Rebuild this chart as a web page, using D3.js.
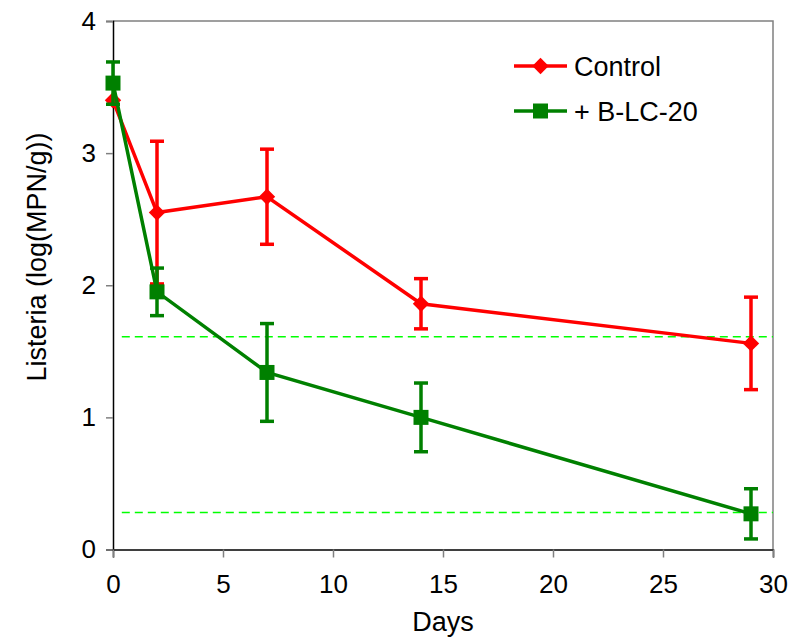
<!DOCTYPE html>
<html>
<head>
<meta charset="utf-8">
<script src="https://cdn.jsdelivr.net/npm/d3@7"></script>
<style>
  body { margin: 0; background: #fff; }
  svg text { font-family: "Liberation Sans", Arial, sans-serif; fill: #000; }
</style>
</head>
<body>
<svg id="chart" width="794" height="639"></svg>
<script>
// data
var days = [0, 2, 7, 14, 29];
var controlMean = [3.40, 2.55, 2.67, 1.86, 1.56];
var controlErr  = [0.0, 0.54, 0.36, 0.19, 0.35];
var blcMean = [3.53, 1.95, 1.34, 1.00, 0.27];
var blcErr  = [0.16, 0.18, 0.37, 0.26, 0.19];
var refLines = [1.61, 0.28];
var xTicks = [0, 5, 10, 15, 20, 25, 30];
var yTicks = [0, 1, 2, 3, 4];
var seriesNames = ["Control", "+ B-LC-20"];

var svg = d3.select("#chart");
var plotLeft = 113, plotRight = 773, plotTop = 21, plotBottom = 549.5;

var x = d3.scaleLinear().domain([0, 30]).range([plotLeft, plotRight]);
var y = d3.scaleLinear().domain([0, 4]).range([plotBottom, plotTop]);

// frame (top and right, gray)
svg.append("path")
   .attr("d", "M" + plotLeft + "," + plotTop + "H" + plotRight + "V" + plotBottom)
   .attr("fill", "none").attr("stroke", "#808080").attr("stroke-width", 1.5);

// axes
var yAxis = svg.append("g").attr("transform", "translate(" + plotLeft + ",0)")
   .call(d3.axisLeft(y).tickValues(yTicks).tickSize(7).tickPadding(10).tickFormat(d3.format("d")));
var xAxis = svg.append("g").attr("transform", "translate(0," + plotBottom + ")")
   .call(d3.axisBottom(x).tickValues(xTicks).tickSize(8).tickPadding(17).tickFormat(d3.format("d")));
[yAxis, xAxis].forEach(function(a) {
    a.select(".domain").attr("stroke", "#000").attr("stroke-width", 1.5);
    a.selectAll(".tick line").attr("stroke", "#808080").attr("stroke-width", 1.5);
    a.selectAll("text").style("font-size", "26px");
});

// axis titles
svg.append("text").attr("x", 443).attr("y", 631)
   .attr("text-anchor", "middle").style("font-size", "27px").text("Days");
svg.append("text").attr("transform", "translate(46,257) rotate(-90)")
   .attr("text-anchor", "middle").style("font-size", "27px").text("Listeria (log(MPN/g))");

// dashed reference lines
svg.selectAll(".ref").data(refLines).enter().append("line")
   .attr("class", "ref")
   .attr("x1", x(0.4)).attr("x2", plotRight)
   .attr("y1", function(d) { return y(d); }).attr("y2", function(d) { return y(d); })
   .attr("stroke", "#00ff00").attr("stroke-width", 1.5).attr("stroke-dasharray", "8,5");

var series = [
    { name: seriesNames[0], mean: controlMean, err: controlErr, color: "#ff0000", symbol: d3.symbolDiamond2, size: 170 },
    { name: seriesNames[1], mean: blcMean, err: blcErr, color: "#008000", symbol: d3.symbolSquare, size: 225 }
];

var line = d3.line().x(function(d) { return x(d[0]); }).y(function(d) { return y(d[1]); });

series.forEach(function(s) {
    var pts = days.map(function(d, i) { return [d, s.mean[i], s.err[i]]; });
    var g = svg.append("g");
    // error bars
    pts.forEach(function(p) {
        if (p[2] <= 0) return;
        var cx = x(p[0]), y1 = y(p[1] + p[2]), y2 = y(p[1] - p[2]);
        g.append("line").attr("x1", cx).attr("x2", cx).attr("y1", y1).attr("y2", y2)
         .attr("stroke", s.color).attr("stroke-width", 3.5);
        [y1, y2].forEach(function(yy) {
            g.append("line").attr("x1", cx - 7).attr("x2", cx + 7).attr("y1", yy).attr("y2", yy)
             .attr("stroke", s.color).attr("stroke-width", 3.5);
        });
    });
    g.append("path").attr("d", line(pts)).attr("fill", "none")
     .attr("stroke", s.color).attr("stroke-width", 3.5);
    g.selectAll(".m").data(pts).enter().append("path")
     .attr("transform", function(p) { return "translate(" + x(p[0]) + "," + y(p[1]) + ")"; })
     .attr("d", d3.symbol().type(s.symbol).size(s.size))
     .attr("fill", s.color);
});

// legend
var legend = svg.append("g");
series.forEach(function(s, i) {
    var ly = 66 + i * 45;
    legend.append("line").attr("x1", 514).attr("x2", 567).attr("y1", ly).attr("y2", ly)
          .attr("stroke", s.color).attr("stroke-width", 3.5);
    legend.append("path").attr("transform", "translate(540.5," + ly + ")")
          .attr("d", d3.symbol().type(s.symbol).size(s.size))
          .attr("fill", s.color);
    legend.append("text").attr("x", 574).attr("y", ly + 10).style("font-size", "27px").text(s.name);
});
</script>
</body>
</html>
